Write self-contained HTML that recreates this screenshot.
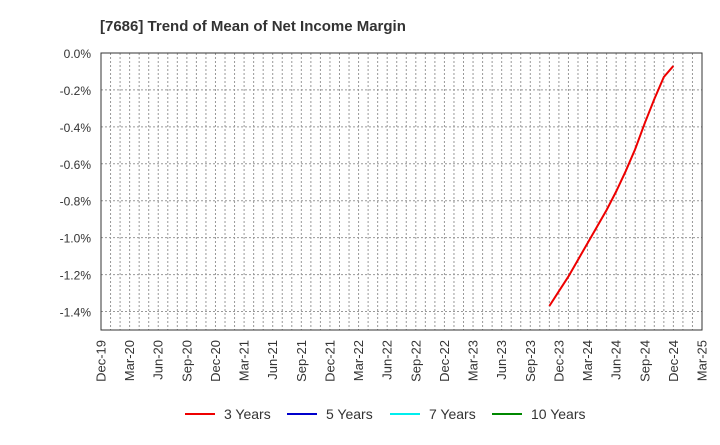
<!DOCTYPE html>
<html><head><meta charset="utf-8"><style>
body{margin:0;background:#fff;font-family:"Liberation Sans",sans-serif}
text{font-family:"Liberation Sans",sans-serif}
</style></head><body>
<svg id="chart" width="720" height="440" xmlns="http://www.w3.org/2000/svg">
<text x="100" y="31" font-size="15" font-weight="bold" fill="#333">[7686]  Trend of Mean of Net Income Margin</text>
<g id="grid"></g><g id="axes"></g><g id="series"></g><g id="legend"></g>
</svg>
<script>
const xLabels=["Dec-19","Mar-20","Jun-20","Sep-20","Dec-20","Mar-21","Jun-21","Sep-21","Dec-21","Mar-22","Jun-22","Sep-22","Dec-22","Mar-23","Jun-23","Sep-23","Dec-23","Mar-24","Jun-24","Sep-24","Dec-24","Mar-25"];
const yTicks=[0,-0.2,-0.4,-0.6,-0.8,-1.0,-1.2,-1.4];
const months3=[47,48,49,50,51,52,53,54,55,56,57,58,59,60];
const values3=[-1.37,-1.29,-1.21,-1.12,-1.03,-0.94,-0.85,-0.75,-0.64,-0.52,-0.38,-0.25,-0.13,-0.07];
const seriesNames=["3 Years","5 Years","7 Years","10 Years"];
const seriesColors=["#e00","#00c","#0ee","#080"];
const L=101,R=702,T=53,B=330,NM=63,YMIN=-1.5,YMAX=0;
const xs=m=>L+(R-L)*m/NM, ys=v=>T+(B-T)*(YMAX-v)/(YMAX-YMIN);
const NS="http://www.w3.org/2000/svg";
function mk(p,t,a){const e=document.createElementNS(NS,t);for(const k in a)e.setAttribute(k,a[k]);p.appendChild(e);return e;}
const g=document.getElementById('grid'),ax=document.getElementById('axes'),s=document.getElementById('series'),lg=document.getElementById('legend');
for(let m=1;m<NM;m++){const l=mk(g,'line',{x1:xs(m),x2:xs(m),y1:T,y2:B,stroke:'#999','stroke-dasharray':'2,2','stroke-width':1});

}
yTicks.forEach(v=>{const y=ys(v);
if(v!==0){const l=mk(g,'line',{x1:L,x2:R,y1:y,y2:y,stroke:'#999','stroke-dasharray':'2,2','stroke-width':1});

}
const t=mk(ax,'text',{x:L-10,y:y+5,'text-anchor':'end','font-size':12,fill:'#333'});t.textContent=v.toFixed(1)+'%';

});
const fr=mk(ax,'rect',{x:L,y:T,width:R-L,height:B-T,fill:'none',stroke:'#333','stroke-width':1});


xLabels.forEach((lab,i)=>{const x=xs(i*3);const t=mk(ax,'text',{x:0,y:0,'text-anchor':'end','font-size':13,fill:'#333',transform:`translate(${x+4.5},${B+10}) rotate(-90)`});t.textContent=lab;

});
const p=mk(s,'polyline',{points:months3.map((m,i)=>xs(m)+','+ys(values3[i])).join(' '),fill:'none',stroke:'#e00','stroke-width':2});


const lx=[185,287,390,492];
seriesNames.forEach((n,i)=>{const l=mk(lg,'line',{x1:lx[i],x2:lx[i]+30,y1:414,y2:414,stroke:seriesColors[i],'stroke-width':2});


const t=mk(lg,'text',{x:lx[i]+39,y:419,'font-size':14,fill:'#333'});t.textContent=n;

});
</script>
</body></html>
